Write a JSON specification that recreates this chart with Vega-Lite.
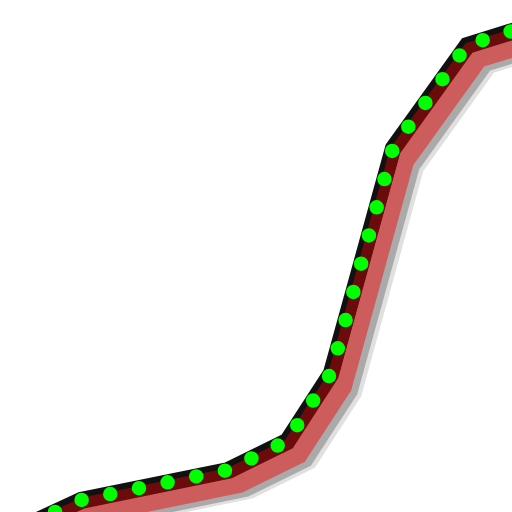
{
  "$schema": "https://vega.github.io/schema/vega-lite/v6.json",
  "width": 512,
  "height": 512,
  "autosize": {"type": "fit", "contains": "padding"},
  "padding": 0,
  "config": {"view": {"stroke": null}},
  "data": {
    "values": [
      {"x": -4.82, "y": -7.17},
      {"x": 15.82, "y": 2.34},
      {"x": 44.53, "y": 8.2},
      {"x": 56.05, "y": 13.87},
      {"x": 64.65, "y": 27.15},
      {"x": 76.76, "y": 71.09},
      {"x": 91.21, "y": 91.21},
      {"x": 105.47, "y": 95.63}
    ]
  },
  "encoding": {
    "x": {"field": "x", "type": "quantitative", "scale": {"domain": [0, 100], "nice": false, "zero": false}, "axis": null},
    "y": {"field": "y", "type": "quantitative", "scale": {"domain": [0, 100], "nice": false, "zero": false}, "axis": null}
  },
  "layer": [
    {"mark": {"type": "line", "clip": true, "color": "#e0e0e0", "strokeWidth": 20, "xOffset": 21, "yOffset": 19}},
    {"mark": {"type": "line", "clip": true, "color": "#aaaaaa", "strokeWidth": 20, "xOffset": 17, "yOffset": 17}},
    {"mark": {"type": "line", "clip": true, "color": "#cd5c5c", "strokeWidth": 20, "xOffset": 11, "yOffset": 13}},
    {"mark": {"type": "line", "clip": true, "color": "#111111", "strokeWidth": 16}},
    {"mark": {"type": "line", "clip": true, "color": "#6b0b0b", "strokeWidth": 11, "xOffset": 2, "yOffset": 3}},
    {"mark": {"type": "line", "clip": true, "color": "#00ff00", "strokeWidth": 14.5, "strokeCap": "round", "strokeDash": [0, 29.25]}}
  ]
}
